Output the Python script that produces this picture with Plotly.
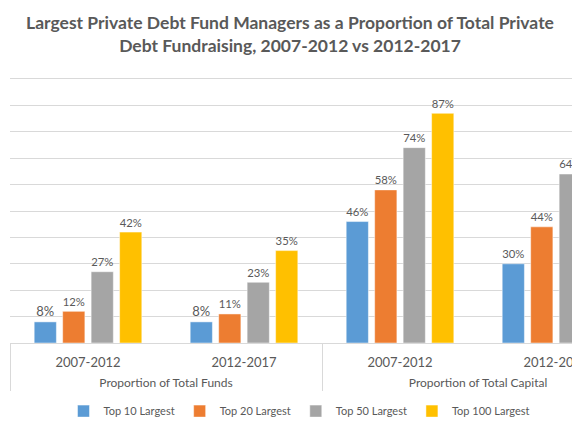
import plotly.graph_objects as go

# chart data
groups = ["Proportion of Total Funds", "Proportion of Total Funds",
          "Proportion of Total Capital", "Proportion of Total Capital"]
periods = ["2007-2012", "2012-2017", "2007-2012", "2012-2017"]

series_names = ["Top 10 Largest", "Top 20 Largest", "Top 50 Largest", "Top 100 Largest"]
top10 = [0.08, 0.08, 0.46, 0.30]
top20 = [0.12, 0.11, 0.58, 0.44]
top50 = [0.27, 0.23, 0.74, 0.64]
top100 = [0.42, 0.35, 0.87, 0.80]  # last one is cut off in the picture

colors = ["#5B9BD5", "#ED7D31", "#A5A5A5", "#FFC000"]
FONT = "Lato"
GREY = "#595959"

# label sizes set per level; the leading break spaces the outer level down
group_labels = ["<br><span style='font-size:12px'>" + g + "</span>" for g in groups]
period_labels = ["<span style='font-size:13px'>" + p + "</span>" for p in periods]

fig = go.Figure()
for name, vals, col in zip(series_names, [top10, top20, top50, top100], colors):
    fig.add_trace(go.Bar(
        name=name,
        x=[group_labels, period_labels],
        y=vals,
        marker=dict(color=col, line=dict(color="rgba(255,255,255,0.6)", width=0.8)),
        texttemplate="%{y:.0%}",
        textposition="outside",
        textfont=dict(family=FONT, size=13, color=GREY),
        cliponaxis=False,
    ))

# page body has an 8px margin, so the figure is shifted; margins compensate
fig.update_layout(
    width=580, height=435,
    margin=dict(l=2, r=0, t=71, b=100),
    paper_bgcolor="white", plot_bgcolor="white",
    barmode="group", bargap=0.27, bargroupgap=0.22,
    font=dict(family=FONT, color=GREY, size=12),
    title=dict(
        text="<b>Largest Private Debt Fund Managers as a Proportion of Total Private<br>"
             "Debt Fundraising, 2007-2012 vs 2012-2017</b>",
        x=282 / 580, xanchor="center", y=1 - 21 / 435, yanchor="middle",
        font=dict(family=FONT, size=17.5, color=GREY),
    ),
    legend=dict(
        orientation="h", x=0.5, xanchor="center", y=-0.258, yanchor="middle",
        font=dict(family=FONT, size=11, color=GREY),
        itemwidth=30, traceorder="normal",
    ),
    showlegend=True,
)
fig.update_xaxes(
    range=[-0.5, 3.205],
    automargin=False,
    showline=True, mirror=True, linecolor="#D9D9D9", linewidth=1,
    showdividers=True, dividercolor="#D9D9D9", dividerwidth=1,
    tickfont=dict(family=FONT, size=10, color=GREY),
    ticklabelstandoff=11,
    ticks="",
)
fig.update_yaxes(
    range=[0, 1.0], dtick=0.1,
    automargin=False,
    showticklabels=False,
    gridcolor="#D9D9D9", gridwidth=1,
    zeroline=False,
)

fig.write_html("out.html")
